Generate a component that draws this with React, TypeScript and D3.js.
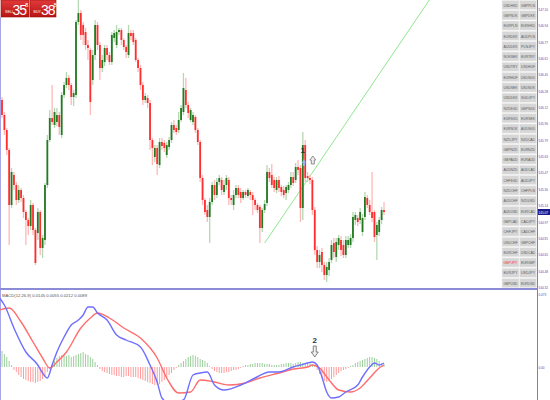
import React from 'react';
import * as d3 from 'd3';

const OPEN = [146.19,146.04,145.89,145.69,145.14,145.44,145.34,145.19,145.29,145.21,
145.07,144.99,144.93,145.14,144.89,144.86,145.07,144.71,144.79,145.34,
145.79,146.01,145.94,145.97,146.04,145.84,146.24,146.34,146.41,146.34,
146.22,146.24,146.97,147.06,146.94,146.87,146.74,146.69,146.39,146.64,
146.94,146.74,146.51,146.57,146.71,146.64,146.57,146.81,146.74,146.87,
146.89,146.79,146.72,146.64,146.86,146.86,146.79,146.59,146.51,146.34,
146.19,146.21,146.16,145.79,145.62,145.71,145.54,145.77,145.76,145.64,
145.72,145.79,145.94,145.91,145.89,145.99,146.07,146.29,146.14,145.99,
145.97,146.02,145.89,145.77,145.41,145.19,145.09,145.02,145.17,145.34,
145.24,145.37,145.39,145.27,145.34,145.39,145.21,145.14,145.24,145.31,
145.27,145.21,145.27,145.23,145.27,145.24,145.19,145.14,145.12,144.91,
145.09,145.16,145.47,145.44,145.39,145.29,145.39,145.32,145.29,145.26,
145.29,145.34,145.42,145.39,145.52,145.51,145.11,145.74,145.43,145.41,
145.39,145.09,144.69,144.57,144.67,144.54,144.44,144.49,144.59,144.76,
144.62,144.74,144.79,144.74,144.64,144.74,144.74,144.81,144.99,145.01,
144.99,144.87,145.02,145.21,145.14,145.07,145.07,144.84,144.87,144.99,
145.09];
const CLOSE = [146.04,145.89,145.69,145.14,145.47,145.34,145.19,145.29,145.21,145.07,
144.99,144.93,145.14,144.89,144.56,145.07,144.71,144.81,145.34,145.79,
146.01,145.97,146.07,146.04,145.92,146.24,146.34,146.41,146.34,146.22,
146.26,146.97,147.06,146.84,146.84,146.74,146.71,146.17,146.64,146.94,
146.74,146.51,146.59,146.71,146.64,146.57,146.84,146.86,146.87,146.89,
146.79,146.72,146.67,146.86,146.83,146.77,146.59,146.51,146.34,146.19,
146.23,146.16,145.79,145.71,145.71,145.55,145.77,145.73,145.71,145.74,
145.79,145.94,145.89,145.87,145.99,146.11,146.31,146.14,146.06,146.09,
146.04,145.89,145.77,145.41,145.19,145.07,145.02,145.17,145.34,145.24,
145.37,145.41,145.29,145.34,145.41,145.21,145.19,145.24,145.31,145.24,
145.21,145.27,145.24,145.29,145.24,145.19,145.14,145.09,144.91,145.09,
145.15,145.47,145.41,145.34,145.31,145.39,145.31,145.27,145.24,145.32,
145.34,145.42,145.36,145.52,145.49,145.11,145.74,145.41,145.41,145.39,
145.09,144.69,144.57,144.64,144.54,144.44,144.52,144.57,144.74,144.67,
144.77,144.81,144.69,144.64,144.79,144.79,144.81,145.02,145.04,144.97,
145.07,145.01,145.22,145.14,145.07,145.01,144.82,144.94,144.99,145.09,
145.07];
const HIGH = [146.22,146.07,145.91,145.71,145.51,145.47,145.37,145.34,145.31,145.24,
145.09,145.01,145.19,145.16,144.91,145.11,145.09,144.84,145.36,145.84,
146.09,146.34,146.11,146.11,146.07,146.27,146.37,146.47,146.44,146.36,
146.29,146.99,147.19,147.09,146.97,146.91,146.79,146.71,146.69,146.99,
146.97,146.77,146.64,146.74,146.74,146.67,146.87,146.89,146.94,146.91,
146.91,146.81,146.74,146.94,146.89,146.89,146.81,146.61,146.54,146.37,
146.26,146.24,146.19,145.81,145.74,145.74,145.81,145.81,145.79,145.77,
145.82,145.97,145.99,145.94,146.07,146.14,146.46,146.41,146.17,146.11,
146.07,146.04,145.91,145.79,145.44,145.21,145.14,145.21,145.37,145.39,
145.41,145.44,145.42,145.39,145.44,145.42,145.24,145.29,145.34,145.34,
145.31,145.29,145.29,145.31,145.29,145.27,145.21,145.16,145.14,145.11,
145.19,145.54,145.51,145.55,145.42,145.42,145.43,145.34,145.33,145.34,
145.37,145.47,145.47,145.56,145.59,145.54,145.87,145.79,145.47,145.44,
145.42,145.12,144.73,144.69,144.71,144.57,144.57,144.61,144.79,144.81,
144.81,144.84,144.83,144.79,144.83,144.83,144.85,145.07,145.07,145.04,
145.11,145.05,145.27,145.24,145.19,145.47,145.09,144.97,145.02,145.12,
145.17];
const LOW = [146.01,145.84,145.64,144.74,145.11,145.29,145.14,145.16,145.17,145.01,
144.74,144.84,144.89,144.84,144.54,144.79,144.64,144.61,144.74,145.31,
145.77,145.94,145.91,145.93,145.84,145.81,146.21,146.31,146.29,146.14,
146.13,146.21,146.94,146.79,146.74,146.69,146.59,146.04,146.34,146.59,
146.69,146.39,146.47,146.53,146.59,146.54,146.54,146.77,146.71,146.84,
146.74,146.69,146.61,146.61,146.79,146.74,146.57,146.47,146.29,146.14,
146.16,146.11,145.69,145.54,145.57,145.44,145.51,145.69,145.67,145.61,
145.69,145.76,145.86,145.84,145.86,145.97,146.04,146.11,146.01,145.97,
145.94,145.86,145.74,145.37,145.14,145.04,144.97,144.76,145.14,145.19,
145.21,145.34,145.24,145.24,145.29,145.14,145.14,145.09,145.21,145.21,
145.16,145.19,145.21,145.21,145.19,145.04,145.09,145.06,144.76,144.87,
145.06,145.13,145.37,145.31,145.27,145.26,145.27,145.23,145.21,145.19,
145.26,145.31,145.33,145.36,145.44,144.97,144.99,145.37,145.37,145.35,
145.04,144.64,144.51,144.51,144.47,144.39,144.37,144.43,144.56,144.61,
144.57,144.69,144.63,144.61,144.61,144.71,144.71,144.77,144.94,144.93,
144.95,144.83,144.99,145.11,145.04,144.97,144.77,144.59,144.83,144.95,
145.04];

// MACD histogram, one bar per candle
const HIST = [0.016,0.013,0.010,0.006,0.002,
-0.003,-0.005,-0.008,-0.010,-0.012,-0.013,-0.014,-0.015,-0.015,-0.016,-0.015,-0.014,-0.012,-0.009,-0.005,
-0.002,
0.003,0.006,0.009,0.011,0.012,0.012,0.011,0.012,0.010,0.011,0.012,0.013,0.014,0.015,0.013,0.012,0.010,0.008,0.005,0.002,
-0.002,-0.004,-0.005,-0.006,-0.007,-0.008,-0.008,-0.009,-0.009,-0.010,-0.010,-0.009,-0.009,-0.010,-0.010,-0.010,-0.011,-0.012,-0.013,-0.014,-0.015,-0.016,-0.017,-0.018,-0.018,-0.017,-0.015,-0.013,-0.011,-0.008,-0.006,-0.003,-0.001,
0.002,0.004,0.006,0.008,0.010,0.011,0.012,0.011,0.010,0.008,
0.007,0.006,0.004,0.001,
-0.002,-0.004,-0.005,-0.006,-0.006,-0.006,-0.005,-0.005,-0.004,-0.003,-0.003,-0.002,-0.001,
0.001,0.002,0.002,0.003,0.003,0.004,0.004,0.004,0.004,0.003,0.003,0.003,0.002,0.002,0.002,
0.002,0.003,0.003,0.004,0.004,0.004,0.003,0.004,0.005,0.005,0.004,0.004,0.005,0.004,0.003,0.001,
-0.003,-0.007,-0.011,-0.014,-0.015,-0.014,-0.012,-0.010,-0.008,-0.006,-0.004,-0.003,-0.002,-0.001,
0.001,0.002,0.004,0.005,0.006,0.007,0.008,0.009,0.010,0.010,0.009,0.008,0.006,0.004,0.003];

// MACD main line samples [candle index, value]
const MACD_MAIN: [number, number][] = [[-1,0.069],[1,0.062],[5,0.039],[10,0.015],[15,0.002],[17,-0.006],[19,-0.011],[21,0.002],[23,0.015],[26,0.030],[29,0.042],[32,0.047],[34,0.052],[36,0.060],[38,0.060],[40,0.054],[44,0.047],[48,0.032],[52,0.027],[58,0.020],[62,0.002],[65,-0.015],[67,-0.031],[70,-0.036],[76,-0.033],[80,-0.008],[83,-0.006],[86,-0.005],[89,-0.018],[93,-0.023],[100,-0.018],[106,-0.011],[112,-0.005],[116,-0.005],[122,0.000],[125,0.002],[128,0.004],[130,0.005],[132,0.002],[134,-0.010],[136,-0.025],[138,-0.031],[141,-0.030],[144,-0.025],[149,-0.018],[151,-0.010],[154,0.000],[156,0.004],[158,0.002],[160,0.004]];
// MACD signal line samples
const MACD_SIGNAL: [number, number][] = [[-1,0.057],[3,0.059],[8,0.045],[13,0.025],[17,0.009],[20,-0.001],[23,0.005],[27,0.015],[33,0.039],[37,0.049],[40,0.054],[45,0.049],[51,0.039],[58,0.029],[65,0.009],[69,-0.011],[74,-0.026],[79,-0.025],[83,-0.013],[89,-0.015],[95,-0.018],[102,-0.016],[108,-0.011],[116,-0.006],[122,-0.002],[128,0.000],[130,0.002],[133,-0.001],[137,-0.013],[141,-0.023],[146,-0.025],[150,-0.021],[154,-0.011],[158,-0.001],[160,0.002]];

const PRICE_TICKS = ['147.10','146.94','146.77','146.61','146.45','146.28','146.12','145.96','145.79','145.63','145.47','145.30','145.14','144.97','144.81','144.65','144.48','144.32'];
const MACD_TICKS = ['0.073', '0.00'];
const MACD_TITLE = 'MACD(12,26,9) 0.0145 0.0055 0.0212 0.0089';

const SYMBOLS_LEFT = ['USDHKD','GBPNOK','EURPLN','EURDKK','AUDDKK','NOKSEK','USDTRY','EURHUF','USDSEK','USDDKK','NZDSGD','EURSGD','EURNOK','NZDJPY','GBPNZD','GBPAUD','AUDNZD','CHFSGD','NZDCHF','AUDCHF','AUDUSD','GBPCAD','CHFJPY','USDCHF','EURCHF','GBPJPY','EURJPY','GBPUSD'];
const SYMBOLS_RIGHT = ['GBPPLN','GBPDKK','EURHKD','AUDPLN','PLNJPY','EURTRY','USDHUF','USDSGD','USDNOK','SGDJPY','GBPSGD','EURSEK','AUDSGD','NZDCAD','EURNZD','EURAUD','AUDCAD','AUDJPY','CHFPLN','NZDUSD','EURCAD','CADJPY','CADCHF','GBPCHF','USDCAD','EURGBP','USDJPY','EURUSD'];
const ACTIVE_SYMBOL = 'GBPJPY';

const TRENDLINE: [number, number][] = [[110, 144.76], [179, 147.19]];
const MARK1: [number, number] = [126, 145.66];
const MARK2_INDEX = 131;
const SELL_PRICE = ['35', '8'];
const BUY_PRICE = ['38', '8'];

const W = 550, H = 400;
const MAIN_BOTTOM = 288;
const AXIS_X = 537;

function AxisLabel({ y, text, fill }: { y: number; text: string; fill: string }) {
  return (
    <text transform={`translate(${AXIS_X + 1.5},${y + 1.5}) scale(0.7,1)`} fontSize={4.4} fill={fill}>{text}</text>
  );
}

export default function App() {
  const x = d3.scaleLinear().domain([0, 160]).range([2, 384]);
  const yP = d3.scaleLinear().domain([147.19, 144.31]).range([0, MAIN_BOTTOM]);
  const yM = d3.scaleLinear().domain([0.075, -0.033]).range([292, 400]);

  const line = d3.line<[number, number]>().x(d => x(d[0])).y(d => yM(d[1])).curve(d3.curveMonotoneX);
  const last = CLOSE[CLOSE.length - 1];

  const font = 'Liberation Sans, Arial, sans-serif';
  const rowH = 10.3;

  return (
    <svg width={W} height={H} style={{ position: 'absolute', left: 0, top: 0, background: '#fff', fontFamily: font }}>
      <defs>
        <clipPath id="mainClip"><rect x={0} y={0} width={AXIS_X} height={MAIN_BOTTOM} /></clipPath>
        <clipPath id="macdClip"><rect x={0} y={291} width={AXIS_X} height={109} /></clipPath>
        <linearGradient id="btn" x1="0" x2="0" y1="0" y2="1">
          <stop offset="0" stopColor="#e03a3a" />
          <stop offset="1" stopColor="#b81414" />
        </linearGradient>
      </defs>

      <g clipPath="url(#mainClip)">
        <line x1={x(TRENDLINE[0][0])} y1={yP(TRENDLINE[0][1])} x2={x(TRENDLINE[1][0])} y2={yP(TRENDLINE[1][1])} stroke="#8fe88f" strokeWidth={1} />
        {CLOSE.map((c, i) => {
          const o = OPEN[i];
          const up = c >= o;
          const cx = x(i);
          const y0 = yP(Math.max(o, c));
          const y1 = yP(Math.min(o, c));
          return (
            <g key={i}>
              <line x1={cx} x2={cx} y1={yP(HIGH[i])} y2={yP(LOW[i])} stroke={up ? '#b4d8b4' : '#ffb8b8'} strokeWidth={1.3} />
              <rect x={cx - 0.9} width={1.8} y={y0} height={Math.max(1, y1 - y0)} fill={up ? '#237a23' : '#ff2e2e'} />
            </g>
          );
        })}
      </g>

      <text x={x(MARK1[0])} y={yP(MARK1[1])} fontSize={8} fontWeight="bold" fill="#333" textAnchor="middle">1</text>
      <path d={`M${x(MARK1[0]) + 1},${yP(MARK1[1]) + 6} l2,4 l-1,0 l0,3 l-2,0 l0,-3 l-1,0 z`} fill="#9bb3f5" />
      <path d={`M${x(MARK1[0]) + 10},${yP(MARK1[1]) + 3} l3,4 l-1.5,0 l0,4 l-3,0 l0,-4 l-1.5,0 z`} fill="#eee" stroke="#777" strokeWidth={0.8} />

      <rect x={1} y={0} width={28} height={17} fill="url(#btn)" stroke="#9a1010" strokeWidth={0.6} />
      <rect x={30} y={0} width={26} height={17} fill="url(#btn)" stroke="#9a1010" strokeWidth={0.6} />
      <text x={5} y={13} fontSize={3.6} fill="#fff">SELL</text>
      <text x={12.5} y={15} fontSize={14} fill="#fff" letterSpacing={-1}>{SELL_PRICE[0]}</text>
      <text x={25} y={7} fontSize={6} fill="#fff">{SELL_PRICE[1]}</text>
      <text x={33.5} y={13} fontSize={3.6} fill="#fff">BUY</text>
      <text x={41} y={15} fontSize={14} fill="#fff" letterSpacing={-1}>{BUY_PRICE[0]}</text>
      <text x={53.5} y={7} fontSize={6} fill="#fff">{BUY_PRICE[1]}</text>

      {SYMBOLS_LEFT.map((s, r) => {
        const cy = 5 + r * rowH;
        return (
          <g key={'s' + r}>
            <rect x={502} y={cy - 4.6} width={17} height={9.2} fill="#d6d6d6" stroke="#efefef" strokeWidth={0.6} />
            <rect x={519.5} y={cy - 4.6} width={17} height={9.2} fill="#d6d6d6" stroke="#efefef" strokeWidth={0.6} />
            <text x={510.5} y={cy + 1.6} fontSize={4.3} textAnchor="middle" fill={s === ACTIVE_SYMBOL ? '#ff3030' : '#5a5a5a'} textLength={14} lengthAdjust="spacingAndGlyphs">{s}</text>
            <text x={528} y={cy + 1.6} fontSize={4.3} textAnchor="middle" fill={SYMBOLS_RIGHT[r] === ACTIVE_SYMBOL ? '#ff3030' : '#5a5a5a'} textLength={14} lengthAdjust="spacingAndGlyphs">{SYMBOLS_RIGHT[r]}</text>
          </g>
        );
      })}

      {PRICE_TICKS.map(t => (
        <g key={t}>
          <line x1={AXIS_X} x2={AXIS_X + 1.5} y1={yP(+t)} y2={yP(+t)} stroke="#6a6ad0" strokeWidth={0.6} />
          <AxisLabel y={yP(+t)} text={t} fill="#4a4ab8" />
        </g>
      ))}
      <rect x={AXIS_X} y={yP(last) - 3} width={13} height={6} fill="#1a1a8c" />
      <AxisLabel y={yP(last)} text={last.toFixed(2)} fill="#fff" />

      <line x1={0.5} x2={0.5} y1={17} y2={H} stroke="#a6a6e6" strokeWidth={1} />
      <line x1={AXIS_X + 0.5} x2={AXIS_X + 0.5} y1={0} y2={H} stroke="#7c7cd8" strokeWidth={1} />
      <line x1={0} x2={AXIS_X} y1={MAIN_BOTTOM + 1} y2={MAIN_BOTTOM + 1} stroke="#8c8cd6" strokeWidth={2} />

      <text x={2} y={297} fontSize={4.2} fill="#555">{MACD_TITLE}</text>
      <g clipPath="url(#macdClip)">
        {HIST.map((h, i) => (
          <rect key={'h' + i} x={x(i) - 0.5} width={1} y={h >= 0 ? yM(h) : yM(0)} height={Math.abs(yM(h) - yM(0))} fill={h >= 0 ? '#9ccf9c' : '#ff9c9c'} />
        ))}
        <path d={line(MACD_SIGNAL) || ''} fill="none" stroke="#ff6d6d" strokeWidth={1.4} />
        <path d={line(MACD_MAIN) || ''} fill="none" stroke="#6f6fff" strokeWidth={1.4} />
      </g>
      <AxisLabel y={yM(+MACD_TICKS[0])} text={MACD_TICKS[0]} fill="#4a4ab8" />
      <AxisLabel y={yM(+MACD_TICKS[1])} text={MACD_TICKS[1]} fill="#4a4ab8" />

      <text x={x(MARK2_INDEX)} y={343} fontSize={8} fontWeight="bold" fill="#333" textAnchor="middle">2</text>
      <path d={`M${x(MARK2_INDEX) - 1.5},346 l3,0 l0,6 l2,0 l-3.5,5 l-3.5,-5 l2,0 z`} fill="#eee" stroke="#666" strokeWidth={0.8} />
    </svg>
  );
}
